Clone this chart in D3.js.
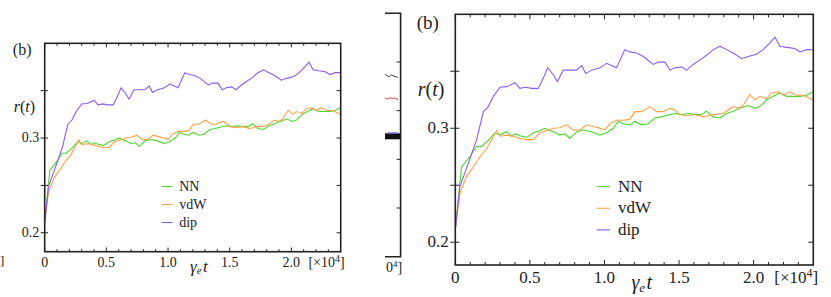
<!DOCTYPE html>
<html>
<head>
<meta charset="utf-8">
<script src="https://cdn.jsdelivr.net/npm/d3@7"></script>
<style>
  body { margin: 0; background: #fff; }
  svg { display: block; }
</style>
</head>
<body>
<script>
// data: [gamma_e t (x1e4), r(t)]
var dipData = [[0,0.211],[0.031,0.249],[0.087,0.269],[0.143,0.290],[0.188,0.3146],[0.221,0.319],[0.255,0.328],
  [0.30,0.336],[0.344,0.3365],[0.40,0.340],[0.433,0.335],[0.47,0.336],[0.512,0.335],[0.556,0.335],[0.59,0.344],
  [0.619,0.353],[0.657,0.347],[0.684,0.341],[0.724,0.351],[0.769,0.351],[0.813,0.351],[0.847,0.355],[0.874,0.348],
  [0.914,0.351],[0.97,0.353],[1.014,0.357],[1.081,0.353],[1.115,0.363],[1.137,0.369],[1.171,0.367],[1.215,0.366],
  [1.26,0.363],[1.327,0.356],[1.36,0.358],[1.405,0.358],[1.439,0.351],[1.472,0.353],[1.517,0.354],[1.55,0.351],
  [1.595,0.356],[1.64,0.36],[1.684,0.364],[1.729,0.369],[1.774,0.372],[1.819,0.369],[1.863,0.366],[1.919,0.361],
  [1.964,0.363],[2.02,0.365],[2.064,0.369],[2.109,0.375],[2.143,0.380],[2.176,0.372],[2.221,0.371],[2.277,0.370],
  [2.31,0.367],[2.355,0.369],[2.395,0.369]];

var nnData = [[0,0.211],[0.042,0.266],[0.098,0.275],[0.143,0.284],[0.176,0.284],[0.21,0.288],[0.232,0.291],
  [0.266,0.296],[0.30,0.294],[0.34,0.297],[0.378,0.293],[0.40,0.295],[0.445,0.293],[0.478,0.292],[0.523,0.296],
  [0.567,0.298],[0.601,0.300],[0.657,0.297],[0.70,0.294],[0.735,0.295],[0.768,0.291],[0.813,0.297],[0.858,0.2985],
  [0.914,0.297],[0.97,0.294],[1.014,0.296],[1.059,0.300],[1.092,0.306],[1.126,0.304],[1.171,0.303],[1.204,0.306],
  [1.249,0.303],[1.294,0.304],[1.338,0.309],[1.383,0.310],[1.439,0.312],[1.472,0.313],[1.517,0.312],[1.562,0.313],
  [1.618,0.312],[1.651,0.312],[1.684,0.315],[1.729,0.310],[1.774,0.309],[1.819,0.313],[1.863,0.315],[1.908,0.3175],
  [1.964,0.320],[2.009,0.3175],[2.042,0.319],[2.087,0.325],[2.131,0.328],[2.176,0.331],[2.221,0.328],[2.266,0.328],
  [2.31,0.328],[2.355,0.329],[2.395,0.332]];

var vdwData = [[0,0.211],[0.031,0.243],[0.076,0.258],[0.121,0.266],[0.165,0.275],[0.21,0.282],[0.244,0.290],
  [0.277,0.298],[0.30,0.293],[0.344,0.294],[0.389,0.293],[0.433,0.291],[0.478,0.290],[0.523,0.290],[0.567,0.296],
  [0.612,0.298],[0.657,0.300],[0.70,0.3005],[0.746,0.303],[0.791,0.2985],[0.835,0.2985],[0.88,0.303],[0.925,0.3015],
  [0.97,0.300],[1.003,0.2985],[1.037,0.304],[1.081,0.307],[1.126,0.307],[1.171,0.308],[1.204,0.3146],[1.249,0.3146],
  [1.305,0.319],[1.35,0.3146],[1.394,0.3146],[1.439,0.3175],[1.472,0.316],[1.506,0.312],[1.55,0.311],[1.606,0.312],
  [1.662,0.310],[1.729,0.312],[1.796,0.313],[1.83,0.316],[1.863,0.319],[1.897,0.3175],[1.93,0.320],[1.975,0.3295],
  [2.009,0.325],[2.042,0.328],[2.087,0.326],[2.12,0.331],[2.165,0.332],[2.199,0.329],[2.243,0.332],[2.288,0.329],
  [2.333,0.329],[2.366,0.327],[2.395,0.325]];

var seriesNames = ["NN", "vdW", "dip"];
var seriesColors = ["#4cd92c", "#ffa048", "#8a5cf4"];
var seriesData = [nnData, vdwData, dipData];

var xMajor = [0, 0.5, 1.0, 1.5, 2.0];
var xMajorLabels = ["0", "0.5", "1.0", "1.5", "2.0"];
var yTicks = [0.2, 0.25, 0.3, 0.35];
var yLabelTicks = [0.2, 0.3];

// bits of a neighbouring figure that show in the gap
var fragTicks = [1, 2, 3, 4];
var fragRed = [[0,0.5],[0.2,0.3],[0.4,0.55],[0.6,0.4],[0.8,0.5],[1,0.2]];
var fragGray = [[0,0.6],[0.3,0.2],[0.5,0.5],[0.7,0.3],[1,0.1]];

var svg = d3.select("body").append("svg")
  .attr("width", 831)
  .attr("height", 297);

function label(parent) {
  return parent.append("text").style("font-family", "'Liberation Serif'").attr("fill", "#222");
}

function drawPanel(box) {
  var k = (box.right - box.left) / 358;
  var fs = Math.round(17 * k);
  var x = d3.scaleLinear().domain([0, 2.4]).range([box.left, box.right]);
  var y = d3.scaleLinear().domain([0.18, 0.40]).range([box.bottom, box.top]);
  var g = svg.append("g");

  // curves
  var line = d3.line().x(d => x(d[0])).y(d => y(d[1]));
  seriesData.forEach(function(s, i) {
    g.append("path")
      .attr("d", line(s))
      .attr("fill", "none")
      .attr("stroke", seriesColors[i])
      .attr("stroke-width", 1.1);
  });

  // x ticks, bottom and top, pointing in
  var minor = d3.range(0, 24).map(d => d / 10);
  [[box.bottom, -1], [box.top, 1]].forEach(function(side) {
    g.selectAll(null).data(minor).enter().append("line")
      .attr("x1", d => x(d)).attr("x2", d => x(d))
      .attr("y1", side[0])
      .attr("y2", d => side[0] + side[1] * (Math.abs(d * 2 - Math.round(d * 2)) < 1e-6 ? 5 : 3) * k)
      .attr("stroke", "#222").attr("stroke-width", 1);
  });

  // y ticks: left ones cross the frame, right ones point in
  g.selectAll(null).data(yTicks).enter().append("line")
    .attr("x1", box.left - 5 * k).attr("x2", box.left + 4 * k)
    .attr("y1", d => y(d)).attr("y2", d => y(d))
    .attr("stroke", "#222").attr("stroke-width", 1);
  g.selectAll(null).data(yTicks).enter().append("line")
    .attr("x1", box.right - 5 * k).attr("x2", box.right)
    .attr("y1", d => y(d)).attr("y2", d => y(d))
    .attr("stroke", "#222").attr("stroke-width", 1);

  // frame
  g.append("rect")
    .attr("x", box.left).attr("y", box.top)
    .attr("width", box.right - box.left).attr("height", box.bottom - box.top)
    .attr("fill", "none").attr("stroke", "#222").attr("stroke-width", 1.6);

  // tick labels
  xMajor.forEach(function(d, i) {
    label(g).attr("x", x(d)).attr("y", box.bottom + 18 * k)
      .attr("text-anchor", "middle").attr("font-size", fs)
      .text(xMajorLabels[i]);
  });
  yLabelTicks.forEach(function(d) {
    label(g).attr("x", box.left - 6.5 * k).attr("y", y(d) + 5 * k)
      .attr("text-anchor", "end").attr("font-size", fs)
      .text(d.toFixed(1));
  });

  // multiplier
  var mult = label(g)
    .attr("x", box.right - 39 * k).attr("y", box.bottom + 18 * k)
    .attr("font-size", fs);
  mult.append("tspan").text("[×10");
  mult.append("tspan").attr("dy", -6 * k).attr("font-size", Math.round(fs * 0.7)).text("4");
  mult.append("tspan").attr("dy", 6 * k).text("]");

  // axis titles
  var xt = label(g)
    .attr("x", x(1.25)).attr("y", box.bottom + 24 * k)
    .attr("text-anchor", "middle").attr("font-size", Math.round(fs * 1.2))
    .attr("font-style", "italic");
  xt.append("tspan").text("γ");
  xt.append("tspan").attr("font-size", Math.round(fs * 0.75)).attr("dy", 3 * k).text("e");
  xt.append("tspan").attr("dy", -3 * k).attr("dx", 1.5 * k).text("t");

  var yt = label(g)
    .attr("x", box.left - 37.5 * k).attr("y", y(0.328))
    .attr("font-size", Math.round(fs * 1.15));
  yt.append("tspan").attr("font-style", "italic").text("r");
  yt.append("tspan").text("(");
  yt.append("tspan").attr("font-style", "italic").text("t");
  yt.append("tspan").text(")");

  label(g)
    .attr("x", box.left - 38.5 * k).attr("y", box.top + 14.5 * k)
    .attr("font-size", Math.round(fs * 1.12))
    .text("(b)");

  // legend
  var legY = [0.2488, 0.2298, 0.2108];
  seriesNames.forEach(function(name, i) {
    g.append("line")
      .attr("x1", x(0.948)).attr("x2", x(1.037))
      .attr("y1", y(legY[i])).attr("y2", y(legY[i]))
      .attr("stroke", seriesColors[i]).attr("stroke-width", 1.1);
    label(g)
      .attr("x", x(1.09)).attr("y", y(legY[i]) + 5 * k)
      .attr("font-size", fs)
      .text(name);
  });
}

drawPanel({left: 44.7, right: 340.7, top: 43.3, bottom: 251.7});
drawPanel({left: 455.3, right: 813.3, top: 14.3, bottom: 265});

// fragment of the other figure in the gap
var fx = d3.scaleLinear().domain([0, 1]).range([385, 398]);
var fy = d3.scaleLinear().domain([0, 5]).range([256.7, 13.3]);
var frag = svg.append("g");
frag.append("path")
  .attr("d", d3.line()([[fx(0), fy(5)], [fx(1.2), fy(5)], [fx(1.2), fy(0)], [fx(0), fy(0)]]))
  .attr("fill", "none").attr("stroke", "#222").attr("stroke-width", 1.6);
frag.selectAll(null).data(fragTicks).enter().append("line")
  .attr("x1", fx(1.2) - 4).attr("x2", fx(1.2))
  .attr("y1", d => fy(d)).attr("y2", d => fy(d))
  .attr("stroke", "#222");
var fyr = d3.scaleLinear().domain([0, 1]).range([101, 95]);
frag.append("path")
  .attr("d", d3.line().x(d => fx(d[0])).y(d => fyr(d[1]))(fragRed))
  .attr("fill", "none").attr("stroke", "#f04040").attr("stroke-width", 1);
var fyg = d3.scaleLinear().domain([0, 1]).range([78, 72]);
frag.append("path")
  .attr("d", d3.line().x(d => fx(d[0])).y(d => fyg(d[1]))(fragGray))
  .attr("fill", "none").attr("stroke", "#444").attr("stroke-width", 1);
frag.append("rect")
  .attr("x", fx(0)).attr("y", 133.3).attr("width", fx(1.2) - fx(0)).attr("height", 6)
  .attr("fill", "#111");
frag.append("rect")
  .attr("x", fx(0.2)).attr("y", 132.3).attr("width", fx(1) - fx(0.2)).attr("height", 1.5)
  .attr("fill", "#6070e0");
var ft = label(frag).attr("x", 386).attr("y", 272).attr("font-size", 14);
ft.append("tspan").text("0");
ft.append("tspan").attr("dy", -5).attr("font-size", 9).text("4");
ft.append("tspan").attr("dy", 5).text("]");
label(svg).attr("x", 0).attr("y", 265).attr("font-size", 13).text("]");
</script>
</body>
</html>
